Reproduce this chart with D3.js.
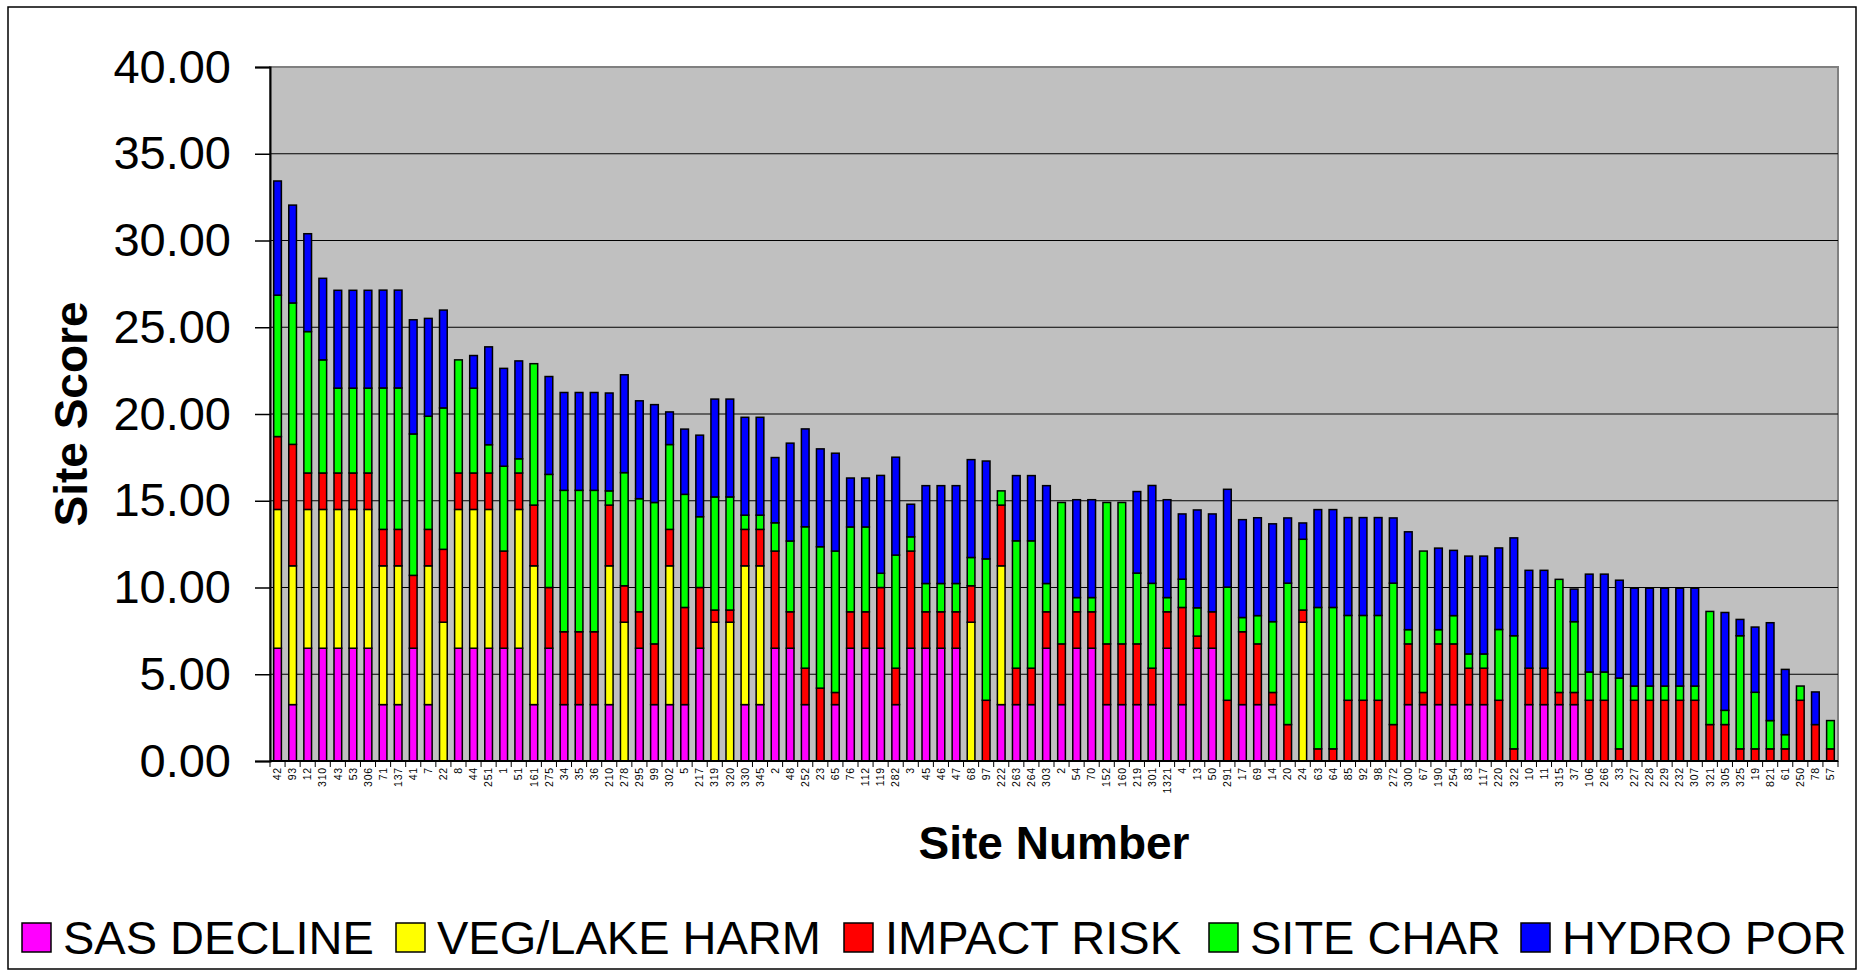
<!DOCTYPE html>
<html>
<head>
<meta charset="utf-8">
<script src="https://cdn.jsdelivr.net/npm/d3@7"></script>
<style>
  body { margin: 0; background: #fff; }
  svg text { font-family: "Liberation Sans", Arial, sans-serif; fill: #000; }
</style>
</head>
<body>
<svg id="chart" width="1865" height="972"></svg>
<script>
// site numbers, in plotted order
const sites = ["42","93","12","310","43","53","306","71","137","41","7","22","8",
  "44","251","1","51","161","275","34","35","36","210","278","295","99",
  "302","5","217","319","320","330","345","2","48","252","23","65","76",
  "112","119","282","3","45","46","47","68","97","222","263","264","303",
  "2","54","70","152","160","219","301","1321","4","13","50","291","17",
  "69","14","20","24","63","64","85","92","98","272","300","67","190",
  "254","83","117","220","322","10","11","315","37","106","266","33","227",
  "228","229","232","307","321","305","325","19","821","61","250","78","57"];

const sasDecline = [6.5,3.25,6.5,6.5,6.5,6.5,6.5,3.25,3.25,6.5,3.25,0,6.5,
  6.5,6.5,6.5,6.5,3.25,6.5,3.25,3.25,3.25,3.25,0,6.5,3.25,
  3.25,3.25,6.5,0,0,3.25,3.25,6.5,6.5,3.25,0,3.25,6.5,
  6.5,6.5,3.25,6.5,6.5,6.5,6.5,0,0,3.25,3.25,3.25,6.5,
  3.25,6.5,6.5,3.25,3.25,3.25,3.25,6.5,3.25,6.5,6.5,0,3.25,
  3.25,3.25,0,0,0,0,0,0,0,0,3.25,3.25,3.25,
  3.25,3.25,3.25,0,0,3.25,3.25,3.25,3.25,0,0,0,0,
  0,0,0,0,0,0,0,0,0,0,0,0,0];

const vegLakeHarm = [8,8,8,8,8,8,8,8,8,0,8,8,8,
  8,8,0,8,8,0,0,0,0,8,8,0,0,
  8,0,0,8,8,8,8,0,0,0,0,0,0,
  0,0,0,0,0,0,0,8,0,8,0,0,0,
  0,0,0,0,0,0,0,0,0,0,0,0,0,
  0,0,0,8,0,0,0,0,0,0,0,0,0,
  0,0,0,0,0,0,0,0,0,0,0,0,0,
  0,0,0,0,0,0,0,0,0,0,0,0,0];

const impactRisk = [4.2,7.0,2.1,2.1,2.1,2.1,2.1,2.1,2.1,4.2,2.1,4.2,2.1,
  2.1,2.1,5.6,2.1,3.5,3.5,4.2,4.2,4.2,3.5,2.1,2.1,3.5,
  2.1,5.6,3.5,0.7,0.7,2.1,2.1,5.6,2.1,2.1,4.2,0.7,2.1,
  2.1,3.5,2.1,5.6,2.1,2.1,2.1,2.1,3.5,3.5,2.1,2.1,2.1,
  3.5,2.1,2.1,3.5,3.5,3.5,2.1,2.1,5.6,0.7,2.1,3.5,4.2,
  3.5,0.7,2.1,0.7,0.7,0.7,3.5,3.5,3.5,2.1,3.5,0.7,3.5,
  3.5,2.1,2.1,3.5,0.7,2.1,2.1,0.7,0.7,3.5,3.5,0.7,3.5,
  3.5,3.5,3.5,3.5,2.1,2.1,0.7,0.7,0.7,0.7,3.5,2.1,0.7];

const siteChar = [8.15,8.15,8.15,6.52,4.89,4.89,4.89,8.15,8.15,8.15,6.52,8.15,6.52,
  4.89,1.63,4.89,0.82,8.15,6.52,8.15,8.15,8.15,0.82,6.52,6.52,8.15,
  4.89,6.52,4.08,6.52,6.52,0.82,0.82,1.63,4.08,8.15,8.15,8.15,4.89,
  4.89,0.82,6.52,0.82,1.63,1.63,1.63,1.63,8.15,0.82,7.34,7.34,1.63,
  8.15,0.82,0.82,8.15,8.15,4.08,4.89,0.82,1.63,1.63,0,6.52,0.82,
  1.63,4.08,8.15,4.08,8.15,8.15,4.89,4.89,4.89,8.15,0.82,8.15,0.82,
  1.63,0.82,0.82,4.08,6.52,0,0,6.52,4.08,1.63,1.63,4.08,0.82,
  0.82,0.82,0.82,0.82,6.52,0.82,6.52,3.26,1.63,0.82,0.82,0,1.63];

const hydroPor = [6.58,5.64,5.64,4.7,5.64,5.64,5.64,5.64,5.64,6.58,5.64,5.64,0,
  1.88,5.64,5.64,5.64,0,5.64,5.64,5.64,5.64,5.64,5.64,5.64,5.64,
  1.88,3.76,4.7,5.64,5.64,5.64,5.64,3.76,5.64,5.64,5.64,5.64,2.82,
  2.82,5.64,5.64,1.88,5.64,5.64,5.64,5.64,5.64,0,3.76,3.76,5.64,
  0,5.64,5.64,0,0,4.7,5.64,5.64,3.76,5.64,5.64,5.64,5.64,
  5.64,5.64,3.76,0.94,5.64,5.64,5.64,5.64,5.64,3.76,5.64,0,4.7,
  3.76,5.64,5.64,4.7,5.64,5.64,5.64,0,1.88,5.64,5.64,5.64,5.64,
  5.64,5.64,5.64,5.64,0,5.64,0.94,3.76,5.64,3.76,0,1.88,0];

const seriesNames = ["SAS DECLINE", "VEG/LAKE HARM", "IMPACT RISK", "SITE CHAR", "HYDRO POR"];
const seriesColors = ["#ff00ff", "#ffff00", "#ff0000", "#00ff00", "#0000ff"];
const yTicks = [0, 5, 10, 15, 20, 25, 30, 35, 40];

const svg = d3.select("#chart");
const plot = { left: 270, right: 1838, top: 67, bottom: 761 };

// rows for d3.stack
const rows = sites.map((s, i) => ({
  idx: i,
  s0: sasDecline[i], s1: vegLakeHarm[i], s2: impactRisk[i], s3: siteChar[i], s4: hydroPor[i]
}));
const keys = ["s0", "s1", "s2", "s3", "s4"];
const stacked = d3.stack().keys(keys)(rows);

const x = d3.scaleBand()
  .domain(d3.range(sites.length))
  .range([plot.left, plot.right])
  .paddingInner(0.49)
  .paddingOuter(0.245);

const y = d3.scaleLinear().domain([0, 40]).range([plot.bottom, plot.top]);

// outer chart border
svg.append("rect")
  .attr("x", 8).attr("y", 7).attr("width", 1848).attr("height", 962)
  .attr("fill", "#fff").attr("stroke", "#000").attr("stroke-width", 1.5);

// plot area
svg.append("rect")
  .attr("x", plot.left).attr("y", plot.top)
  .attr("width", plot.right - plot.left).attr("height", plot.bottom - plot.top)
  .attr("fill", "#c0c0c0").attr("stroke", "#808080").attr("stroke-width", 2);

// gridlines
svg.append("g").selectAll("line")
  .data(yTicks.filter(d => d > 0 && d < 40))
  .enter().append("line")
  .attr("x1", plot.left).attr("x2", plot.right)
  .attr("y1", d => y(d)).attr("y2", d => y(d))
  .attr("stroke", "#000").attr("stroke-width", 1);

// bars
svg.append("g").selectAll("g.series")
  .data(stacked)
  .enter().append("g")
  .classed("series", true)
  .attr("fill", (d, i) => seriesColors[i])
  .selectAll("rect")
  .data(d => d.filter(p => p[1] - p[0] > 0))
  .enter().append("rect")
  .attr("x", d => x(d.data.idx))
  .attr("width", x.bandwidth())
  .attr("y", d => y(d[1]))
  .attr("height", d => y(d[0]) - y(d[1]))
  .attr("stroke", "#000")
  .attr("stroke-width", 1.5);

// y axis
const yAxis = svg.append("g")
  .attr("transform", "translate(" + plot.left + ",0)")
  .call(d3.axisLeft(y).tickValues(yTicks).tickFormat(d3.format(".2f")).tickSize(15).tickPadding(24));
yAxis.select(".domain").attr("stroke", "#000").attr("stroke-width", 2);
yAxis.selectAll(".tick line").attr("stroke", "#000").attr("stroke-width", 1.5);
yAxis.selectAll(".tick text")
  .attr("font-size", 47)
  .attr("font-family", "'Liberation Sans', Arial, sans-serif")
  .attr("fill", "#000");

// x axis: baseline, ticks between bars, rotated site labels
svg.append("line")
  .attr("x1", plot.left).attr("x2", plot.right)
  .attr("y1", plot.bottom).attr("y2", plot.bottom)
  .attr("stroke", "#000").attr("stroke-width", 2);

svg.append("g").selectAll("line")
  .data(d3.range(sites.length + 1))
  .enter().append("line")
  .attr("x1", d => plot.left + d * x.step()).attr("x2", d => plot.left + d * x.step())
  .attr("y1", plot.bottom).attr("y2", plot.bottom + 6)
  .attr("stroke", "#000").attr("stroke-width", 1);

svg.append("g").selectAll("text")
  .data(sites)
  .enter().append("text")
  .attr("transform", (d, i) => "translate(" + (x(i) + x.bandwidth() / 2 + 3.7) + "," + (plot.bottom + 6) + ") rotate(-90)")
  .attr("text-anchor", "end")
  .attr("font-size", 10.5)
  .attr("letter-spacing", 0.8)
  .text(d => d);

// axis titles
svg.append("text")
  .attr("transform", "translate(87," + ((plot.top + plot.bottom) / 2) + ") rotate(-90)")
  .attr("text-anchor", "middle")
  .attr("font-size", 46).attr("font-weight", "bold")
  .text("Site Score");

svg.append("text")
  .attr("x", (plot.left + plot.right) / 2).attr("y", 859)
  .attr("text-anchor", "middle")
  .attr("font-size", 46).attr("font-weight", "bold")
  .text("Site Number");

// legend
const legendX = [22, 396, 844, 1209, 1521];
const legend = svg.append("g").selectAll("g")
  .data(seriesNames)
  .enter().append("g")
  .attr("transform", (d, i) => "translate(" + legendX[i] + ",0)");

legend.append("rect")
  .attr("x", 0).attr("y", 923).attr("width", 29).attr("height", 29)
  .attr("fill", (d, i) => seriesColors[i])
  .attr("stroke", "#000").attr("stroke-width", 1.5);

legend.append("text")
  .attr("x", 41).attr("y", 954)
  .attr("font-size", 47)
  .text(d => d);
</script>
</body>
</html>
